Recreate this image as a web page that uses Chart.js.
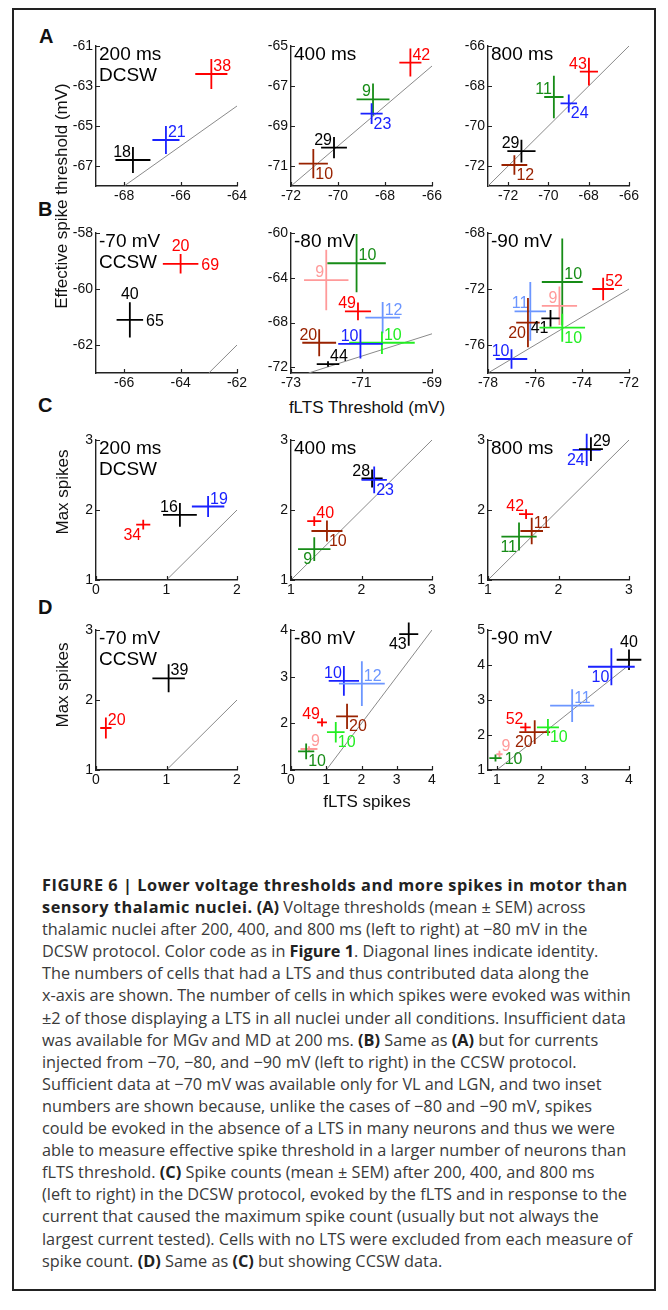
<!DOCTYPE html>
<html>
<head>
<meta charset="utf-8">
<script src="https://cdn.jsdelivr.net/npm/chart.js@4.4.1/dist/chart.umd.min.js"></script>
<style>
body { margin:0; width:668px; height:1310px; background:#fff; position:relative; overflow:hidden; font-family:"Liberation Sans", Arial, sans-serif; }
#frame { position:absolute; left:12px; top:8px; width:644px; height:1283px; border:2px solid #222; box-sizing:border-box; }
canvas { position:absolute; }
#a200 { left:56px; top:36px; } #a400 { left:251px; top:36px; } #a800 { left:448px; top:36px; }
#b70 { left:56px; top:223px; } #b80 { left:251px; top:223px; } #b90 { left:448px; top:223px; }
#c200 { left:56px; top:430px; } #c400 { left:251px; top:430px; } #c800 { left:448px; top:430px; }
#d70 { left:56px; top:620px; } #d80 { left:251px; top:620px; } #d90 { left:448px; top:620px; }
.let { position:absolute; font-weight:bold; font-size:20px; line-height:20px; color:#111; }
.ttl { position:absolute; font-size:17px; line-height:17px; white-space:nowrap; color:#111; transform:translate(-50%, 0); }
.rot { transform:translate(-50%, -50%) rotate(-90deg); }
#cap { position:absolute; left:42px; top:874px; font-family:"Open Sans", sans-serif; font-size:16.3px; line-height:22.1px; color:#3a3a3a; white-space:nowrap; }
#cap b { color:#222; }
#cap b.h { letter-spacing:0.55px; }
</style>
</head>
<body>
<div id="frame"></div>
<canvas id="a200" width="195" height="174"></canvas>
<canvas id="a400" width="195" height="174"></canvas>
<canvas id="a800" width="195" height="174"></canvas>
<canvas id="b70" width="195" height="174"></canvas>
<canvas id="b80" width="195" height="174"></canvas>
<canvas id="b90" width="195" height="174"></canvas>
<canvas id="c200" width="195" height="174"></canvas>
<canvas id="c400" width="195" height="174"></canvas>
<canvas id="c800" width="195" height="174"></canvas>
<canvas id="d70" width="195" height="174"></canvas>
<canvas id="d80" width="195" height="174"></canvas>
<canvas id="d90" width="195" height="174"></canvas>

<div class="let" style="left:39px; top:26px;">A</div>
<div class="let" style="left:38px; top:199px;">B</div>
<div class="let" style="left:38px; top:395px;">C</div>
<div class="let" style="left:38px; top:597px;">D</div>

<div class="ttl rot" style="left:61px; top:196px;">Effective spike threshold (mV)</div>
<div class="ttl" style="left:367px; top:399px;">fLTS Threshold (mV)</div>
<div class="ttl rot" style="left:62px; top:492px;">Max spikes</div>
<div class="ttl rot" style="left:62px; top:685px;">Max spikes</div>
<div class="ttl" style="left:367px; top:793px;">fLTS spikes</div>

<div id="cap">
<div><b class="h">FIGURE 6 | Lower voltage thresholds and more spikes in motor than</b></div>
<div><b class="h">sensory thalamic nuclei.</b> <b>(A)</b> Voltage thresholds (mean ± SEM) across</div>
<div>thalamic nuclei after 200, 400, and 800 ms (left to right) at −80 mV in the</div>
<div>DCSW protocol. Color code as in <b>Figure 1</b>. Diagonal lines indicate identity.</div>
<div>The numbers of cells that had a LTS and thus contributed data along the</div>
<div>x-axis are shown. The number of cells in which spikes were evoked was within</div>
<div>±2 of those displaying a LTS in all nuclei under all conditions. Insufficient data</div>
<div>was available for MGv and MD at 200 ms. <b>(B)</b> Same as <b>(A)</b> but for currents</div>
<div>injected from −70, −80, and −90 mV (left to right) in the CCSW protocol.</div>
<div>Sufficient data at −70 mV was available only for VL and LGN, and two inset</div>
<div>numbers are shown because, unlike the cases of −80 and −90 mV, spikes</div>
<div>could be evoked in the absence of a LTS in many neurons and thus we were</div>
<div>able to measure effective spike threshold in a larger number of neurons than</div>
<div>fLTS threshold. <b>(C)</b> Spike counts (mean ± SEM) after 200, 400, and 800 ms</div>
<div>(left to right) in the DCSW protocol, evoked by the fLTS and in response to the</div>
<div>current that caused the maximum spike count (usually but not always the</div>
<div>largest current tested). Cells with no LTS were excluded from each measure of</div>
<div>spike count. <b>(D)</b> Same as <b>(C)</b> but showing CCSW data.</div>
</div>

<script>
// rows: [colour, x mean, x sem, y mean, y sem, n cells, second n (B -70 only)]
// A: effective spike threshold vs fLTS threshold, DCSW
const a200 = [
  ['black', -67.69, 0.62, -66.7, 0.65, '18'],
  ['blue', -66.52, 0.48, -65.7, 0.7, '21'],
  ['red', -64.91, 0.57, -62.4, 0.75, '38']
];
const a400 = [
  ['red', -66.92, 0.47, -65.83, 0.7, '42'],
  ['green', -68.51, 0.7, -67.67, 0.8, '9'],
  ['blue', -68.57, 0.47, -68.38, 0.52, '23'],
  ['black', -70.17, 0.55, -70.08, 0.53, '29'],
  ['brown', -71.05, 0.62, -70.88, 0.73, '10']
];
const a800 = [
  ['red', -67.99, 0.45, -67.28, 0.69, '43'],
  ['green', -69.73, 0.48, -68.55, 1.06, '11'],
  ['blue', -68.99, 0.41, -68.87, 0.45, '24'],
  ['black', -71.34, 0.7, -71.26, 0.57, '29'],
  ['brown', -71.69, 0.64, -71.95, 0.49, '12']
];
// B: CCSW from -70, -80, -90 mV
const b70 = [
  ['red', -64.0, 0.63, -59.1, 0.35, '20', '69'],
  ['black', -65.8, 0.47, -61.1, 0.63, '40', '65']
];
const b80 = [
  ['green', -71.14, 0.83, -62.7, 2.6, '10'],
  ['pink', -72.0, 0.63, -64.2, 2.7, '9'],
  ['red', -71.1, 0.37, -67.0, 0.8, '49'],
  ['lightblue', -70.4, 0.49, -67.55, 1.4, '12'],
  ['lime', -70.42, 0.93, -69.8, 1.0, '10'],
  ['blue', -71.03, 0.63, -69.9, 1.3, '10'],
  ['brown', -72.2, 0.48, -69.8, 1.2, '20'],
  ['black', -71.95, 0.32, -71.7, 0.25, '44']
];
const b90 = [
  ['green', -74.84, 0.87, -71.5, 3.1, '10'],
  ['red', -73.1, 0.46, -72.0, 0.8, '52'],
  ['pink', -74.96, 0.75, -73.2, 1.37, '9'],
  ['lightblue', -76.2, 0.67, -73.6, 2.1, '11'],
  ['brown', -76.3, 0.5, -74.4, 1.76, '20'],
  ['black', -75.34, 0.39, -74.1, 0.6, '41'],
  ['lime', -74.84, 0.97, -74.76, 1.0, '10'],
  ['blue', -77.0, 0.67, -77.0, 0.7, '10']
];
// C: max spikes vs fLTS spikes, DCSW
const c200 = [
  ['red', 0.67, 0.1, 1.79, 0.07, '34'],
  ['black', 1.19, 0.24, 1.93, 0.17, '16'],
  ['blue', 1.59, 0.23, 2.05, 0.15, '19']
];
const c400 = [
  ['black', 2.15, 0.15, 2.45, 0.13, '28'],
  ['blue', 2.18, 0.18, 2.43, 0.19, '23'],
  ['red', 1.33, 0.1, 1.84, 0.07, '40'],
  ['brown', 1.51, 0.22, 1.7, 0.15, '10'],
  ['green', 1.33, 0.23, 1.44, 0.17, '9']
];
const c800 = [
  ['blue', 2.4, 0.2, 2.86, 0.23, '24'],
  ['black', 2.46, 0.17, 2.87, 0.17, '29'],
  ['red', 1.54, 0.1, 1.94, 0.07, '42'],
  ['brown', 1.62, 0.16, 1.7, 0.19, '11'],
  ['green', 1.44, 0.25, 1.62, 0.2, '11']
];
// D: same, CCSW
const d70 = [
  ['black', 1.03, 0.23, 2.31, 0.2, '39'],
  ['red', 0.14, 0.08, 1.6, 0.15, '20']
];
const d80 = [
  ['black', 3.34, 0.27, 3.91, 0.25, '43'],
  ['blue', 1.5, 0.43, 2.91, 0.32, '10'],
  ['lightblue', 2.01, 0.65, 2.85, 0.48, '12'],
  ['red', 0.88, 0.14, 2.02, 0.09, '49'],
  ['brown', 1.59, 0.31, 2.15, 0.27, '20'],
  ['lime', 1.27, 0.25, 1.81, 0.22, '10'],
  ['pink', 0.51, 0.24, 1.45, 0.06, '9'],
  ['green', 0.43, 0.23, 1.4, 0.17, '10']
];
const d90 = [
  ['black', 4.0, 0.28, 4.15, 0.29, '40'],
  ['blue', 3.6, 0.53, 3.95, 0.53, '10'],
  ['lightblue', 2.71, 0.5, 2.84, 0.47, '11'],
  ['red', 1.65, 0.12, 2.22, 0.13, '52'],
  ['brown', 1.86, 0.35, 2.08, 0.34, '20'],
  ['lime', 2.16, 0.25, 2.22, 0.24, '10'],
  ['pink', 1.06, 0.07, 1.45, 0.1, '9'],
  ['green', 0.97, 0.14, 1.34, 0.1, '10']
];

// axis ranges and tick labels
const thrTicks200 = [-68, -66, -64], thrTicks200y = [-67, -65, -63, -61];
const thrTicks400 = [-72, -70, -68, -66], thrTicks400y = [-71, -69, -67, -65];
const thrTicks800 = [-72, -70, -68, -66];
const thrTicks70 = [-66, -64, -62], thrTicks70y = [-62, -60, -58];
const thrTicks80 = [-73, -71, -69], thrTicks80y = [-72, -68, -64, -60];
const thrTicks90 = [-78, -76, -74, -72], thrTicks90y = [-76, -72, -68];
const spkTicks02 = [0, 1, 2], spkTicks13 = [1, 2, 3], spkTicks04 = [0, 1, 2, 3, 4];
const spkTicks14 = [1, 2, 3, 4], spkTicks15 = [1, 2, 3, 4, 5];

const titles = {
  a200: ['200 ms', 'DCSW'], a400: ['400 ms'], a800: ['800 ms'],
  b70: ['-70 mV', 'CCSW'], b80: ['-80 mV'], b90: ['-90 mV'],
  c200: ['200 ms', 'DCSW'], c400: ['400 ms'], c800: ['800 ms'],
  d70: ['-70 mV', 'CCSW'], d80: ['-80 mV'], d90: ['-90 mV']
};

const colorOf = {
  red: '#ff0000', blue: '#1a22ff', black: '#000000', green: '#178c17',
  brown: '#992200', pink: '#ff9a9a', lightblue: '#6c96ff', lime: '#22ee22'
};

// where each count label sits round its cross
const place = {
  a200: ['nw', 'ne', 'ne'],
  a400: ['ne', 'nw', 'se', 'nw', 'se'],
  a800: ['nw', 'nw', 'se', 'nw', 'se'],
  b70: ['n', 'n'],
  b80: ['ne', 'nw', 'nw', 'ne', 'ne', 'nw', 'nw', 'ne'],
  b90: ['ne', 'ne', 'nw', 'nw', 'sw', 'sw', 'se', 'nw'],
  c200: ['sw', 'nw', 'ne'],
  c400: ['nw', 'se', 'ne', 'se', 'sw'],
  c800: ['sw', 'ne', 'nw', 'ne', 'sw'],
  d70: ['ne', 'ne'],
  d80: ['sw', 'nw', 'ne', 'nw', 'se', 'se', 'ne', 'se'],
  d90: ['n', 'sw', 'ne', 'nw', 'sw', 'se', 'ne', 'e']
};

Chart.defaults.font.family = '"Liberation Sans", Arial, sans-serif';
const YW = 40, XH = 24;

function axis(range, ticks, isX) {
  return {
    type: 'linear',
    min: range[0],
    max: range[1],
    grid: { display: false, drawTicks: false },
    border: { display: true, color: '#222', width: 1.4 },
    ticks: {
      color: '#111', font: { size: 14 }, padding: isX ? 2 : 3,
      autoSkip: false, maxRotation: 0, callback: v => String(v)
    },
    afterBuildTicks: s => { s.ticks = ticks.map(v => ({ value: v })); },
    afterFit: s => {
      if (isX) s.height = XH; else s.width = YW;
      s.paddingLeft = 0; s.paddingRight = 0; s.paddingTop = 0; s.paddingBottom = 0;
    }
  };
}

function crossPlugin(rows, where, title) {
  return {
    id: 'crosses',
    afterDatasetsDraw(chart) {
      const ctx = chart.ctx, area = chart.chartArea;
      const x = chart.scales.x, y = chart.scales.y;
      ctx.save();
      // matlab style ticks, pointing in
      ctx.strokeStyle = '#222';
      ctx.lineWidth = 1.2;
      ctx.beginPath();
      x.ticks.forEach(t => {
        const px = Math.round(x.getPixelForValue(t.value)) + 0.5;
        ctx.moveTo(px, area.bottom); ctx.lineTo(px, area.bottom - 4);
      });
      y.ticks.forEach(t => {
        const py = Math.round(y.getPixelForValue(t.value)) + 0.5;
        ctx.moveTo(area.left, py); ctx.lineTo(area.left + 4, py);
      });
      ctx.stroke();

      ctx.lineWidth = 1.8;
      ctx.font = '16px "Liberation Sans", Arial, sans-serif';
      rows.forEach((r, i) => {
        const c = colorOf[r[0]];
        const cx = x.getPixelForValue(r[1]), cy = y.getPixelForValue(r[3]);
        const x0 = x.getPixelForValue(r[1] - r[2]), x1 = x.getPixelForValue(r[1] + r[2]);
        const yTop = y.getPixelForValue(r[3] + r[4]), yBot = y.getPixelForValue(r[3] - r[4]);
        ctx.strokeStyle = c;
        ctx.beginPath();
        ctx.moveTo(x0, cy); ctx.lineTo(x1, cy);
        ctx.moveTo(cx, yTop); ctx.lineTo(cx, yBot);
        ctx.stroke();

        ctx.fillStyle = c;
        ctx.textBaseline = 'alphabetic';
        const p = where[i];
        if (p === 'ne') { ctx.textAlign = 'left'; ctx.fillText(r[5], cx + 2, cy - 3); }
        if (p === 'nw') { ctx.textAlign = 'right'; ctx.fillText(r[5], cx - 2, cy - 3); }
        if (p === 'se') { ctx.textAlign = 'left'; ctx.fillText(r[5], cx + 2, cy + 15); }
        if (p === 'sw') { ctx.textAlign = 'right'; ctx.fillText(r[5], cx - 2, cy + 15); }
        if (p === 'n') { ctx.textAlign = 'center'; ctx.fillText(r[5], cx, yTop - 3); }
        if (p === 'e') { ctx.textAlign = 'left'; ctx.fillText(r[5], x1 + 3, cy + 6); }
        if (r[6]) { ctx.textAlign = 'left'; ctx.fillText(r[6], x1 + 3, cy + 6); }
      });

      ctx.fillStyle = '#000';
      ctx.textAlign = 'left';
      ctx.font = '19px "Liberation Sans", Arial, sans-serif';
      title.forEach((t, k) => ctx.fillText(t, area.left + 3, area.top + 14 + k * 21));
      ctx.restore();
    }
  };
}

function makePanel(id, rows, xr, xt, yr, yt) {
  const lo = Math.max(xr[0], yr[0]), hi = Math.min(xr[1], yr[1]);
  new Chart(document.getElementById(id), {
    type: 'scatter',
    data: {
      datasets: [
        {
          data: [{ x: lo, y: lo }, { x: hi, y: hi }],
          showLine: true, borderColor: '#8a8a8a', borderWidth: 1, pointRadius: 0
        },
        {
          data: rows.map(r => ({ x: r[1], y: r[3] })),
          pointRadius: 0, backgroundColor: rows.map(r => colorOf[r[0]])
        }
      ]
    },
    options: {
      responsive: false,
      animation: false,
      devicePixelRatio: 1,
      layout: { padding: { top: 10, right: 14, left: 0, bottom: 0 } },
      plugins: { legend: { display: false }, tooltip: { enabled: false } },
      scales: { x: axis(xr, xt, true), y: axis(yr, yt, false) }
    },
    plugins: [crossPlugin(rows, place[id], titles[id])]
  });
}

makePanel('a200', a200, [-69, -64], thrTicks200, [-68, -61], thrTicks200y);
makePanel('a400', a400, [-72, -66], thrTicks400, [-72, -65], thrTicks400y);
makePanel('a800', a800, [-73, -66], thrTicks800, [-73, -66], thrTicks800);
makePanel('b70', b70, [-67, -62], thrTicks70, [-63, -58], thrTicks70y);
makePanel('b80', b80, [-73, -69], thrTicks80, [-72.5, -60], thrTicks80y);
makePanel('b90', b90, [-78, -72], thrTicks90, [-78, -68], thrTicks90y);
makePanel('c200', c200, [0, 2], spkTicks02, [1, 3], spkTicks13);
makePanel('c400', c400, [1, 3], spkTicks13, [1, 3], spkTicks13);
makePanel('c800', c800, [1, 3], spkTicks13, [1, 3], spkTicks13);
makePanel('d70', d70, [0, 2], spkTicks02, [1, 3], spkTicks13);
makePanel('d80', d80, [0, 4], spkTicks04, [1, 4], spkTicks14);
makePanel('d90', d90, [0.8, 4], spkTicks14, [1, 5], spkTicks15);
</script>
</body>
</html>
